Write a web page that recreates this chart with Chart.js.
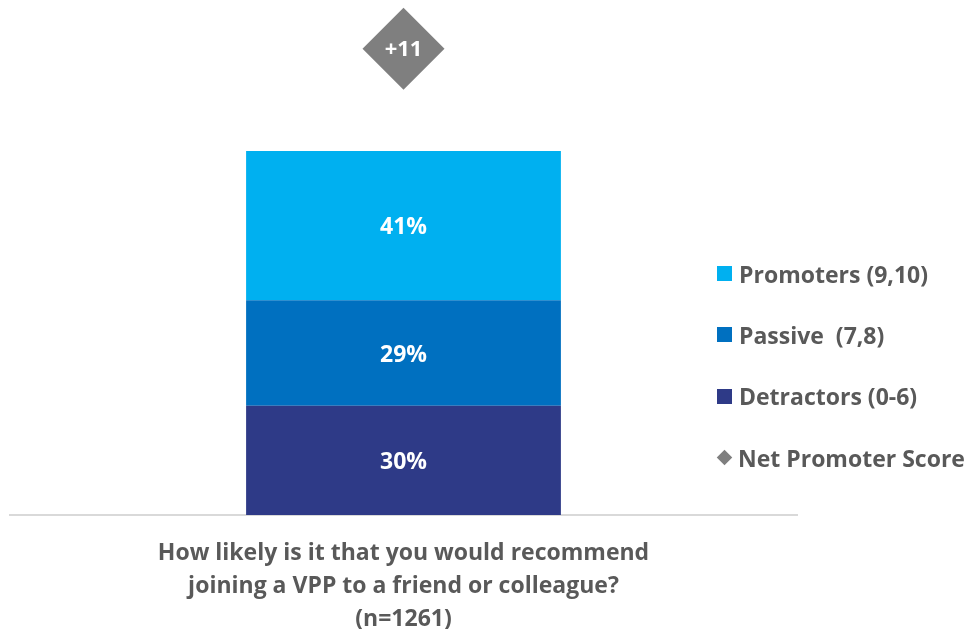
<!DOCTYPE html>
<html>
<head>
    <title>Net Promoter Score - VPP</title>
    <script src="https://cdn.jsdelivr.net/npm/chart.js"></script>
    <style>
        html, body { margin: 0; padding: 0; background: #fff; }
        #wrap { position: relative; width: 970px; height: 629px; }
        #legenda {
            position: absolute; left: 717px; top: 243px;
            margin: 0; padding: 0; list-style: none;
            font-family: "Open Sans", sans-serif; font-weight: bold;
            font-size: 23px; color: #595959;
        }
        #legenda li { height: 61.3px; display: flex; align-items: center; white-space: pre; }
        #legenda .caixa { width: 15px; height: 15px; margin-right: 7px; display: inline-block; }
        #legenda .losango { width: 11px; height: 11px; margin: 0 8px 0 2px; transform: rotate(45deg); display: inline-block; }
    </style>
</head>
<body>
    <div id="wrap">
        <canvas id="grafico" width="970" height="629"></canvas>
        <ul id="legenda"></ul>
    </div>

    <script>
        // dados
        const categorias = ['VPP'];
        const detratores = [30];
        const passivos = [29];
        const promotores = [41];
        const nps = [11];
        const tituloX = [
            'How likely is it that you would recommend',
            'joining a VPP to a friend or colleague?',
            '(n=1261)'
        ];
        const nomes = {
            promotores: 'Promoters (9,10)',
            passivos: 'Passive  (7,8)',
            detratores: 'Detractors (0-6)',
            nps: 'Net Promoter Score'
        };
        const cores = {
            promotores: '#00B0F0',
            passivos: '#0070C0',
            detratores: '#2E3A87',
            nps: '#7F7F7F'
        };

        const fonte = '"Open Sans", sans-serif';

        // rótulos dentro das barras, do losango e título do eixo x
        const rotulos = {
            id: 'rotulos',
            afterDatasetsDraw(chart) {
                const ctx = chart.ctx;
                ctx.save();
                ctx.textAlign = 'center';
                ctx.textBaseline = 'middle';
                ctx.fillStyle = '#ffffff';
                chart.data.datasets.forEach((ds, i) => {
                    const meta = chart.getDatasetMeta(i);
                    meta.data.forEach((el, j) => {
                        const v = ds.data[j];
                        if (ds.type === 'line') {
                            ctx.font = 'bold 22px ' + fonte;
                            ctx.fillText((v > 0 ? '+' : '') + v, el.x, el.y + 1);
                        } else {
                            ctx.font = 'bold 23px ' + fonte;
                            const yc = (el.y + el.base) / 2;
                            ctx.fillText(v + '%', el.x, yc + 2);
                        }
                    });
                });
                const area = chart.chartArea;
                const cx = (area.left + area.right) / 2;
                ctx.fillStyle = '#595959';
                ctx.font = 'bold 23px ' + fonte;
                tituloX.forEach((linha, i) => {
                    ctx.fillText(linha, cx, area.bottom + 38 + i * 33);
                });
                ctx.restore();
            }
        };

        const ctx = document.getElementById('grafico').getContext('2d');
        const myChart = new Chart(ctx, {
            type: 'bar',
            data: {
                labels: categorias,
                datasets: [
                    {
                        type: 'line',
                        label: nomes.nps,
                        data: nps,
                        yAxisID: 'y2',
                        showLine: false,
                        pointStyle: 'rectRot',
                        pointRadius: 41,
                        pointHoverRadius: 41,
                        pointBackgroundColor: cores.nps,
                        pointBorderWidth: 0,
                        clip: false,
                        order: 0
                    },
                    {
                        label: nomes.detratores,
                        data: detratores,
                        backgroundColor: cores.detratores,
                        order: 1
                    },
                    {
                        label: nomes.passivos,
                        data: passivos,
                        backgroundColor: cores.passivos,
                        order: 1
                    },
                    {
                        label: nomes.promotores,
                        data: promotores,
                        backgroundColor: cores.promotores,
                        order: 1
                    }
                ]
            },
            options: {
                responsive: false,
                animation: false,
                barPercentage: 0.4,
                categoryPercentage: 1,
                layout: { autoPadding: false, padding: { left: 10, right: 173, top: 0, bottom: 114 } },
                scales: {
                    x: {
                        stacked: true,
                        ticks: { display: false },
                        grid: { display: false, drawTicks: false },
                        border: { display: true, color: '#D9D9D9', width: 2 }
                    },
                    y: {
                        stacked: true,
                        display: false,
                        min: 0,
                        max: 141.5
                    },
                    y2: {
                        display: false,
                        min: 0,
                        max: 12.15
                    }
                },
                plugins: {
                    legend: { display: false },
                    tooltip: { enabled: false }
                }
            },
            plugins: [rotulos]
        });

        // legenda em HTML
        const ul = document.getElementById('legenda');
        ['promotores', 'passivos', 'detratores', 'nps'].forEach(k => {
            const li = document.createElement('li');
            const m = document.createElement('span');
            m.className = k === 'nps' ? 'losango' : 'caixa';
            m.style.background = cores[k];
            li.appendChild(m);
            li.appendChild(document.createTextNode(nomes[k]));
            ul.appendChild(li);
        });
    </script>
</body>
</html>
